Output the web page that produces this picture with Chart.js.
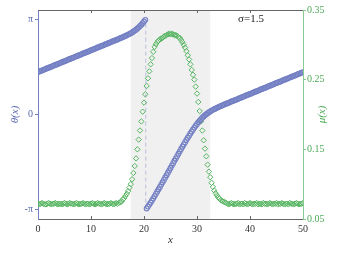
<!DOCTYPE html>
<html>
<head>
<meta charset="utf-8">
<script src="https://cdn.jsdelivr.net/npm/chart.js@4"></script>
<style>html,body{margin:0;padding:0;background:#fff;}canvas{display:block;}</style>
</head>
<body>
<canvas id="c" width="347" height="256"></canvas>
<script>
// sample positions x
const xs = [
0,0.25,0.5,0.75,1,1.25,1.5,1.75,2,2.25,2.5,2.75,3,3.25,3.5,3.75,4,4.25,4.5,4.75,
5,5.25,5.5,5.75,6,6.25,6.5,6.75,7,7.25,7.5,7.75,8,8.25,8.5,8.75,9,9.25,9.5,9.75,
10,10.25,10.5,10.75,11,11.25,11.5,11.75,12,12.25,12.5,12.75,13,13.25,13.5,13.75,14,14.25,14.5,14.75,
15,15.25,15.5,15.75,16,16.25,16.5,16.75,17,17.25,17.5,17.75,18,18.25,18.5,18.75,19,19.25,19.5,19.75,
20,20.25,20.5,20.75,21,21.25,21.5,21.75,22,22.25,22.5,22.75,23,23.25,23.5,23.75,24,24.25,24.5,24.75,
25,25.25,25.5,25.75,26,26.25,26.5,26.75,27,27.25,27.5,27.75,28,28.25,28.5,28.75,29,29.25,29.5,29.75,
30,30.25,30.5,30.75,31,31.25,31.5,31.75,32,32.25,32.5,32.75,33,33.25,33.5,33.75,34,34.25,34.5,34.75,
35,35.25,35.5,35.75,36,36.25,36.5,36.75,37,37.25,37.5,37.75,38,38.25,38.5,38.75,39,39.25,39.5,39.75,
40,40.25,40.5,40.75,41,41.25,41.5,41.75,42,42.25,42.5,42.75,43,43.25,43.5,43.75,44,44.25,44.5,44.75,
45,45.25,45.5,45.75,46,46.25,46.5,46.75,47,47.25,47.5,47.75,48,48.25,48.5,48.75,49,49.25,49.5,49.75,
50
];
// phase theta(x) (left axis)
const theta = [
1.400,1.418,1.436,1.454,1.472,1.490,1.508,1.526,1.544,1.562,
1.580,1.598,1.616,1.634,1.652,1.670,1.688,1.706,1.724,1.742,
1.760,1.778,1.796,1.814,1.832,1.850,1.868,1.886,1.904,1.922,
1.940,1.958,1.976,1.994,2.012,2.030,2.048,2.066,2.084,2.102,
2.120,2.138,2.156,2.174,2.192,2.210,2.228,2.246,2.264,2.282,
2.300,2.318,2.336,2.354,2.372,2.390,2.408,2.426,2.444,2.462,
2.480,2.498,2.517,2.536,2.555,2.575,2.595,2.616,2.638,2.661,
2.686,2.711,2.739,2.770,2.802,2.838,2.878,2.920,2.966,3.015,
3.068,3.124,-3.101,-3.039,-2.975,-2.908,-2.839,-2.768,-2.694,-2.620,
-2.544,-2.468,-2.391,-2.314,-2.236,-2.159,-2.081,-2.002,-1.924,-1.845,
-1.766,-1.687,-1.608,-1.529,-1.451,-1.373,-1.295,-1.217,-1.140,-1.063,
-0.988,-0.913,-0.840,-0.768,-0.698,-0.629,-0.562,-0.497,-0.433,-0.372,
-0.313,-0.257,-0.204,-0.155,-0.109,-0.067,-0.027,0.009,0.043,0.073,
0.102,0.128,0.153,0.177,0.199,0.220,0.241,0.261,0.280,0.299,
0.318,0.337,0.355,0.373,0.391,0.409,0.427,0.445,0.463,0.481,
0.499,0.517,0.535,0.553,0.571,0.589,0.607,0.625,0.643,0.661,
0.679,0.697,0.715,0.733,0.751,0.769,0.787,0.805,0.823,0.841,
0.859,0.877,0.895,0.913,0.931,0.949,0.967,0.985,1.003,1.021,
1.039,1.057,1.075,1.093,1.111,1.129,1.147,1.165,1.183,1.201,
1.219,1.237,1.255,1.273,1.291,1.309,1.327,1.345,1.363,1.381,
1.399
];
// mu(x) (right axis)
const mu = [
0.072,0.071,0.072,0.073,0.072,0.071,0.071,0.072,0.073,0.072,
0.071,0.072,0.072,0.073,0.072,0.071,0.072,0.072,0.071,0.072,
0.073,0.072,0.071,0.072,0.073,0.072,0.072,0.071,0.072,0.073,
0.072,0.071,0.072,0.072,0.073,0.072,0.071,0.072,0.072,0.071,
0.072,0.073,0.072,0.071,0.072,0.073,0.072,0.072,0.071,0.072,
0.073,0.072,0.071,0.072,0.072,0.073,0.072,0.071,0.072,0.073,
0.072,0.073,0.074,0.075,0.078,0.080,0.083,0.086,0.090,0.095,
0.100,0.107,0.116,0.126,0.137,0.150,0.164,0.177,0.190,0.204,
0.217,0.229,0.241,0.252,0.262,0.272,0.281,0.290,0.297,0.301,
0.304,0.306,0.308,0.309,0.310,0.312,0.313,0.314,0.315,0.316,
0.315,0.316,0.315,0.314,0.314,0.313,0.311,0.310,0.307,0.304,
0.300,0.296,0.291,0.285,0.279,0.272,0.264,0.257,0.250,0.240,
0.230,0.218,0.205,0.190,0.177,0.163,0.151,0.140,0.128,0.118,
0.110,0.102,0.096,0.091,0.087,0.084,0.081,0.079,0.077,0.076,
0.075,0.074,0.073,0.072,0.071,0.072,0.073,0.072,0.071,0.072,
0.072,0.073,0.071,0.072,0.072,0.071,0.073,0.072,0.071,0.072,
0.073,0.072,0.071,0.072,0.072,0.073,0.071,0.072,0.072,0.071,
0.073,0.072,0.072,0.071,0.072,0.073,0.072,0.071,0.072,0.072,
0.073,0.071,0.072,0.072,0.073,0.072,0.071,0.072,0.072,0.071,
0.073,0.072,0.072,0.071,0.072,0.073,0.072,0.071,0.072,0.072,
0.073
];
const xTicks = [0, 10, 20, 30, 40, 50];
const thetaTicks = [-Math.PI, 0, Math.PI];
const thetaTickLabels = ['-π', '0', 'π'];
const muTicks = [0.05, 0.15, 0.25, 0.35];
const shadeStart = 17.5, shadeEnd = 32.5;
const jumpX = 20.33;
const sigmaLabel = 'σ=1.5';

const BLUE = '#7480c4', BLUE_TXT = '#5a68b0';
const GREEN = '#58b663', GREEN_TXT = '#4caa58', GREEN_AX = '#86cc92';
const SERIF = "'Liberation Serif', 'DejaVu Serif', serif";

const decor = {
  id: 'decor',
  beforeDatasetsDraw(chart) {
    const {ctx, chartArea: a, scales: {x}} = chart;
    ctx.save();
    ctx.fillStyle = '#f0f0f0';
    const x0 = x.getPixelForValue(shadeStart), x1 = x.getPixelForValue(shadeEnd);
    ctx.fillRect(x0, a.top, x1 - x0, a.bottom - a.top);
    ctx.restore();
  },
  afterDraw(chart) {
    const {ctx, chartArea: a, scales: {x}} = chart;
    ctx.save();
    ctx.strokeStyle = '#666';
    ctx.lineWidth = 1;
    ctx.beginPath();
    ctx.moveTo(a.left, a.top + 0.5); ctx.lineTo(a.right, a.top + 0.5);
    xTicks.forEach(v => {
      if (v === xTicks[0] || v === xTicks[xTicks.length - 1]) return;
      const px = Math.round(x.getPixelForValue(v)) + 0.5;
      ctx.moveTo(px, a.top); ctx.lineTo(px, a.top + 3);
      ctx.moveTo(px, a.bottom); ctx.lineTo(px, a.bottom - 3);
    });
    ctx.stroke();
    ctx.fillStyle = '#222';
    ctx.font = '11px ' + SERIF;
    ctx.textBaseline = 'middle';
    ctx.textAlign = 'left';
    ctx.fillText(sigmaLabel, 238, 19);
    ctx.translate(322, (a.top + a.bottom) / 2);
    ctx.rotate(-Math.PI / 2);
    ctx.textAlign = 'center';
    ctx.fillStyle = GREEN_TXT;
    ctx.font = 'italic 11px ' + SERIF;
    ctx.fillText('μ(x)', 0, 0);
    ctx.restore();
  }
};

new Chart(document.getElementById('c'), {
  type: 'scatter',
  data: {
    datasets: [
      {
        data: xs.map((x, i) => ({x, y: theta[i]})),
        yAxisID: 'y',
        pointStyle: 'circle', pointRadius: 2.4, borderWidth: 1.1,
        borderColor: BLUE, backgroundColor: 'rgba(255,255,255,0)',
        order: 1
      },
      {
        data: xs.map((x, i) => ({x, y: mu[i]})),
        yAxisID: 'y1',
        pointStyle: 'rectRot', pointRadius: 2.7, borderWidth: 1,
        borderColor: GREEN, backgroundColor: 'rgba(255,255,255,0)',
        order: 2
      },
      {
        data: [{x: jumpX, y: -Math.PI}, {x: jumpX, y: Math.PI}],
        yAxisID: 'y', showLine: true, pointRadius: 0,
        borderColor: '#b9bfdc', borderWidth: 1, borderDash: [4, 3],
        order: 3
      }
    ]
  },
  options: {
    responsive: false, animation: false, devicePixelRatio: 1,
    layout: {padding: {top: 10, left: 0, right: 0, bottom: 0}},
    plugins: {legend: {display: false}, tooltip: {enabled: false}},
    scales: {
      x: {
        type: 'linear', min: 0, max: 50,
        afterBuildTicks: s => { s.ticks = xTicks.map(v => ({value: v})); },
        ticks: {color: '#333', font: {family: SERIF, size: 10}, padding: 4, maxRotation: 0},
        grid: {display: false, drawTicks: false},
        border: {color: '#666', width: 1},
        title: {display: true, text: 'x', color: '#333', font: {family: SERIF, size: 11, style: 'italic'}, padding: {top: 0, bottom: 9}},
        afterFit: s => { s.height = 37; }
      },
      y: {
        position: 'left', min: -3.45, max: 3.45,
        afterBuildTicks: s => { s.ticks = thetaTicks.map(v => ({value: v})); },
        ticks: {color: BLUE_TXT, font: {family: SERIF, size: 10}, padding: 2,
          callback: (v, i) => thetaTickLabels[i]},
        grid: {display: true, drawOnChartArea: false, drawTicks: true, tickLength: 3, color: BLUE},
        border: {color: BLUE, width: 1},
        title: {display: true, text: 'θ(x)', color: BLUE_TXT, font: {family: SERIF, size: 11, style: 'italic'}, padding: {top: 9, bottom: 0}},
        afterFit: s => { s.width = 38; }
      },
      y1: {
        position: 'right', min: 0.05, max: 0.35,
        afterBuildTicks: s => { s.ticks = muTicks.map(v => ({value: v})); },
        ticks: {color: GREEN_TXT, font: {family: SERIF, size: 10}, padding: 1,
          callback: v => v.toFixed(2)},
        grid: {display: true, drawOnChartArea: false, drawTicks: true, tickLength: 3, color: GREEN_AX},
        border: {color: GREEN_AX, width: 1},
        title: {display: false},
        afterFit: s => { s.width = 44; }
      }
    }
  },
  plugins: [decor]
});
</script>
</body>
</html>
